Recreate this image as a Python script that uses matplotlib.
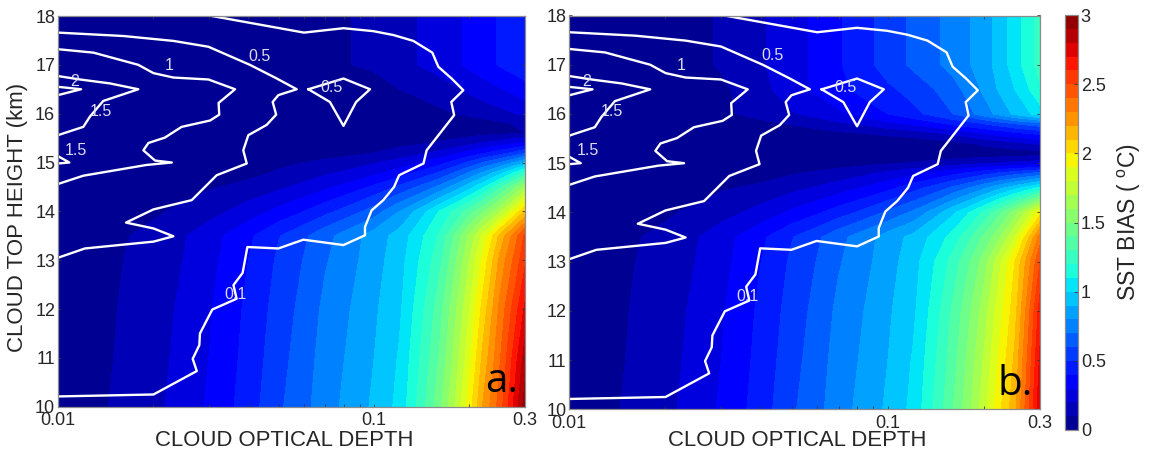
import numpy as np
import matplotlib
matplotlib.use('Agg')
import matplotlib.pyplot as plt

plt.rcParams['font.family'] = ['Liberation Sans', 'DejaVu Sans']
plt.rcParams['mathtext.default'] = 'regular'

# grid of the shaded field
optical_depth = [0.01, 0.015, 0.02, 0.03, 0.04, 0.05, 0.07, 0.1, 0.12, 0.16, 0.2, 0.22, 0.25, 0.3]
top_height = [10, 11, 12, 13, 13.5, 14, 14.5, 14.8, 15, 15.2, 15.4, 15.6, 15.8, 16, 16.5, 17, 18]

# SST bias, one row per height
bias_a = [
    [.06, .105, .175, .315, .455, .585, .76, .92, 1.03, 1.46, 1.95, 2.20, 2.45, 2.95],
    [.05, .10, .165, .30, .44, .565, .745, .90, 1.01, 1.40, 1.87, 2.12, 2.39, 2.85],
    [.05, .095, .155, .29, .425, .545, .725, .885, .98, 1.35, 1.80, 2.03, 2.33, 2.72],
    [.05, .09, .135, .27, .40, .52, .69, .86, .96, 1.26, 1.70, 1.92, 2.23, 2.58],
    [.05, .085, .125, .26, .38, .495, .67, .85, .94, 1.21, 1.62, 1.82, 2.13, 2.52],
    [.02, .05, .085, .16, .25, .33, .47, .65, .80, 1.10, 1.35, 1.48, 1.68, 2.10],
    [.01, .03, .05, .09, .13, .18, .28, .42, .52, .72, .96, 1.08, 1.28, 1.62],
    [0, .02, .03, .05, .07, .11, .18, .27, .34, .50, .70, .80, .95, 1.22],
    [0, .01, .02, .03, .05, .08, .12, .19, .24, .36, .52, .60, .70, .90],
    [0, 0, .01, .02, .03, .04, .06, .10, .14, .22, .33, .38, .45, .58],
    [0, 0, 0, .01, .01, .02, .03, .05, .07, .11, .17, .20, .25, .32],
    [0, 0, 0, 0, 0, .01, .01, .02, .03, .05, .06, .07, .08, .10],
    [0, 0, 0, 0, 0, .01, .01, .02, .03, .04, .05, .06, .08, .13],
    [0, 0, 0, .01, .01, .01, .02, .03, .04, .08, .12, .14, .17, .22],
    [0, .01, .01, .01, .02, .02, .03, .05, .10, .15, .22, .25, .29, .36],
    [.01, .01, .01, .02, .02, .03, .08, .12, .17, .24, .32, .36, .41, .47],
    [.01, .01, .01, .02, .02, .03, .08, .12, .17, .24, .32, .36, .41, .47],
]
bias_b = [
    [.06, .105, .175, .315, .455, .585, .76, .92, 1.03, 1.40, 1.76, 1.95, 2.17, 2.78],
    [.05, .10, .165, .30, .44, .565, .745, .90, 1.01, 1.36, 1.71, 1.89, 2.12, 2.72],
    [.05, .095, .155, .29, .425, .545, .725, .885, .98, 1.32, 1.65, 1.83, 2.06, 2.65],
    [.05, .09, .135, .27, .40, .52, .69, .86, .96, 1.24, 1.55, 1.74, 2.00, 2.50],
    [.05, .085, .125, .26, .38, .495, .67, .85, .93, 1.14, 1.42, 1.55, 1.80, 2.35],
    [.02, .05, .085, .16, .24, .32, .45, .62, .72, .98, 1.22, 1.35, 1.55, 1.95],
    [.01, .03, .05, .09, .12, .17, .25, .37, .46, .62, .78, .86, .96, 1.12],
    [0, .02, .03, .04, .06, .09, .14, .22, .27, .37, .46, .50, .55, .62],
    [0, .01, .01, .02, .03, .04, .06, .09, .11, .15, .19, .20, .22, .25],
    [0, 0, 0, .01, .01, .01, .01, .02, .02, .03, .04, .04, .05, .05],
    [0, 0, 0, .01, .01, .01, .02, .03, .04, .07, .12, .14, .17, .22],
    [0, 0, .01, .02, .03, .04, .08, .12, .14, .22, .30, .33, .37, .42],
    [0, .01, .02, .04, .07, .11, .18, .27, .32, .42, .50, .54, .60, .66],
    [0, .01, .03, .08, .14, .19, .28, .40, .47, .60, .75, .82, .92, 1.05],
    [0, .01, .03, .08, .17, .26, .38, .48, .54, .66, .82, .90, 1.00, 1.18],
    [.01, .02, .05, .11, .19, .26, .39, .55, .62, .74, .85, .93, 1.05, 1.25],
    [.01, .02, .05, .11, .19, .26, .39, .55, .62, .74, .85, .93, 1.05, 1.25],
]

# white contours, log10(optical depth) and height in km
line01_logtau = [-2, -1.698, -1.561, -1.574, -1.553, -1.551, -1.512, -1.435, -1.445, -1.416, -1.401, -1.303,
                 -1.224, -1.097, -1.029, -1.029, -1.008, -.971, -.937, -.921, -.844, -.834, -.747, -.756,
                 -.718, -.755, -.797, -.816, -.876, -.939, -1.003, -1.097, -1.222, -1.393, -1.513]
line01_km = [10.21, 10.25, 10.73, 10.98, 11.26, 11.50, 11.99, 12.21, 12.49, 12.74, 13.27, 13.24,
             13.42, 13.31, 13.51, 13.68, 14.02, 14.23, 14.50, 14.74, 14.98, 15.25, 15.97, 16.24,
             16.48, 16.72, 16.96, 17.25, 17.49, 17.61, 17.69, 17.75, 17.66, 17.86, 18.0]
line05_logtau = [-2, -1.915, -1.698, -1.635, -1.698, -1.785, -1.698, -1.577, -1.498, -1.403, -1.414, -1.398,
                 -1.340, -1.310, -1.321, -1.303, -1.245, -1.308, -1.393, -1.524, -1.635, -1.793, -2]
line05_km = [13.05, 13.24, 13.38, 13.49, 13.65, 13.77, 14.04, 14.23, 14.74, 14.98, 15.25, 15.56,
             15.77, 15.98, 16.24, 16.38, 16.50, 16.72, 17.00, 17.37, 17.49, 17.59, 17.66]
island05_logtau = [-1.208, -1.097, -1.013, -1.057, -1.097, -1.140, -1.208]
island05_km = [16.50, 16.72, 16.50, 16.24, 15.75, 16.24, 16.50]
line1_logtau = [-2, -1.92, -1.72, -1.64, -1.693, -1.73, -1.714, -1.662, -1.609, -1.519, -1.490, -1.492,
                -1.440, -1.524, -1.635, -1.698, -1.746, -1.888, -2]
line1_km = [14.56, 14.73, 14.95, 15.00, 15.04, 15.25, 15.40, 15.51, 15.73, 15.86, 15.98, 16.22,
            16.50, 16.70, 16.74, 16.83, 17.00, 17.25, 17.32]
line15_logtau = [-2, -1.92, -1.899, -1.857, -1.746, -1.836, -1.93, -2]
line15_km = [15.56, 15.73, 15.94, 16.26, 16.50, 16.62, 16.70, 16.77]
small15_logtau = [-2, -1.964, -2]
small15_km = [15.13, 15.00, 14.98]
line2_logtau = [-2, -1.927, -2]
line2_km = [16.55, 16.50, 16.38]

lines = [(line01_logtau, line01_km), (line05_logtau, line05_km), (island05_logtau, island05_km),
         (line1_logtau, line1_km), (line15_logtau, line15_km), (small15_logtau, small15_km),
         (line2_logtau, line2_km)]

line_labels = ['0.1', '0.5', '0.5', '1', '1.5', '1.5', '2']
label_logtau = [-1.44, -1.363, -1.134, -1.648, -1.865, -1.943, -1.946]
label_km = [12.30, 17.18, 16.54, 16.98, 16.05, 15.25, 16.65]

W, H = 1150, 455
levels = np.arange(0, 3.01, 0.1)
GREY = '#8c8c8c'
TEXT = '#262626'


def add_axes_px(fig, left, top, right, bottom):
    return fig.add_axes([left / W, 1 - bottom / H, (right - left) / W, (bottom - top) / H])


def draw_panel(ax, field, letter):
    cf = ax.contourf(optical_depth, top_height, np.array(field), levels=levels, cmap='jet', vmin=0, vmax=3)
    for logtau, km in lines:
        ax.plot(10 ** np.array(logtau), km, color='white', lw=1.7, solid_joinstyle='round')
    for txt, lt, km in zip(line_labels, label_logtau, label_km):
        ax.text(10 ** lt, km, txt, color='#dcdcf0', fontsize=11.5, ha='center', va='center')
    ax.set_xscale('log')
    ax.set_xlim(0.01, 0.3)
    ax.set_ylim(10, 18)
    ax.set_xticks([0.01, 0.1, 0.3])
    ax.set_xticklabels(['0.01', '0.1', '0.3'])
    ax.set_xticks([0.02, 0.03, 0.04, 0.05, 0.06, 0.07, 0.08, 0.09, 0.2], minor=True)
    ax.set_xticklabels([], minor=True)
    ax.set_yticks(range(10, 19))
    ax.tick_params(which='both', direction='in', top=True, right=True, length=2.5, width=0.6, color='#333333',
                   labelsize=13, labelcolor=TEXT, pad=2)
    ax.tick_params(axis='x', which='major', pad=4)
    for s in ax.spines.values():
        s.set_color(GREY)
        s.set_linewidth(0.9)
    ax.text(0.985, 0.012, letter, transform=ax.transAxes, fontsize=29, color='black', ha='right', va='bottom',
            family=['Open Sans', 'DejaVu Sans'])
    return cf


fig = plt.figure(figsize=(W / 100, H / 100), dpi=100)

ax_a = add_axes_px(fig, 58, 16, 525, 406.7)
ax_b = add_axes_px(fig, 569.3, 15.5, 1040, 409.3)
cf = draw_panel(ax_a, bias_a, 'a.')
draw_panel(ax_b, bias_b, 'b.')

fig.text(284 / W, 1 - 440 / H, 'CLOUD OPTICAL DEPTH', fontsize=15.9, color=TEXT, ha='center', va='center')
fig.text(797 / W, 1 - 441 / H, 'CLOUD OPTICAL DEPTH', fontsize=15.9, color=TEXT, ha='center', va='center')
fig.text(18 / W, 1 - 217 / H, 'CLOUD TOP HEIGHT (km)', fontsize=16, color=TEXT, rotation=90, ha='center', va='center')

cax = add_axes_px(fig, 1065, 15, 1078, 430)
cb = fig.colorbar(cf, cax=cax)
cb.set_ticks([0, 0.5, 1, 1.5, 2, 2.5, 3])
cb.set_ticklabels(['0', '0.5', '1', '1.5', '2', '2.5', '3'])
cb.ax.tick_params(direction='in', length=3, width=0.6, color='#333333', labelsize=13, labelcolor=TEXT, pad=2)
cb.outline.set_edgecolor(GREY)
cb.outline.set_linewidth(0.9)
fig.text(1129 / W, 1 - 222 / H, 'SST BIAS ( $^{o}$C)', fontsize=16.5, color=TEXT, rotation=90, ha='center', va='center')

fig.savefig('out.png', dpi=100)
